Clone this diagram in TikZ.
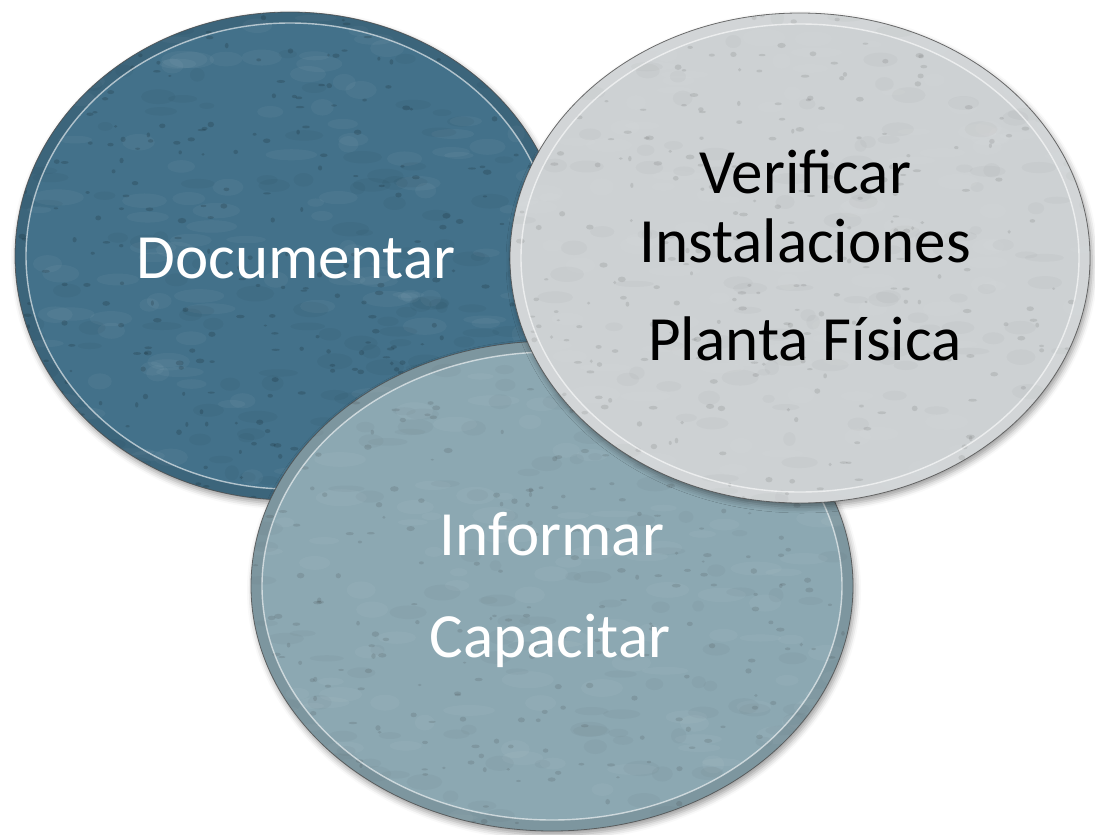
\documentclass[tikz,border=0pt]{standalone}
\usepackage{fontspec}
\setmainfont{Carlito}
\usetikzlibrary{shapes.geometric,shadows.blur}
\definecolor{docblue}{HTML}{43718A}
\definecolor{infblue}{HTML}{8CA8B2}
\definecolor{vergray}{HTML}{CDD1D3}
\newcommand\myGrain[5]{%
  \begin{scope}
    \clip (#1,#2) ellipse [x radius=#3pt, y radius=#4pt];
    \foreach \i in {1,...,140}{%
      \fill[white, opacity=0.04] ({#1+#3*rand},{#2+#4*rand}) ellipse [x radius={(8+18*rnd)*1pt}, y radius={(3+6*rnd)*1pt}];
      \fill[#5, opacity=0.035] ({#1+#3*rand},{#2+#4*rand}) ellipse [x radius={(6+14*rnd)*1pt}, y radius={(3+5*rnd)*1pt}];
    }
    \foreach \i in {1,...,300}{%
      \fill[#5, opacity=0.14] ({#1+#3*rand},{#2+#4*rand}) ellipse [x radius={(1.5+3*rnd)*1pt}, y radius={(1+1.8*rnd)*1pt}];
    }
  \end{scope}}
\newcommand\myRim[5]{%
  \fill[#5, opacity=0.10, even odd rule] (#1,#2) ellipse [x radius=#3pt, y radius=#4pt]
     (#1,#2) ellipse [x radius={(#3-11)*1pt}, y radius={(#4-11)*1pt}];
  \draw[white, opacity=0.6, line width=1.4pt] (#1,#2) ellipse [x radius={(#3-11)*1pt}, y radius={(#4-11)*1pt}];
  \draw[black!70, opacity=0.8, line width=0.8pt] (#1,#2) ellipse [x radius=#3pt, y radius=#4pt];}
\begin{document}
\begin{tikzpicture}[x=1pt,y=-1pt,
  oval/.style={ellipse, inner sep=0pt, fill=#1,
    blur shadow={shadow xshift=2pt, shadow yshift=-4pt, shadow blur radius=6pt, shadow opacity=40}},
  lbl/.style={font=\fontsize{63}{70}\selectfont, anchor=base, inner sep=0pt}]
\useasboundingbox (0,0) rectangle (1095,835);
\pgfmathsetseed{7}
% left ellipse
\node[oval=docblue, minimum width=550pt, minimum height=488pt] (doc) at (290,256) {};
\myGrain{290}{256}{275}{244}{black}
\myRim{290}{256}{275}{244}{black}
% bottom ellipse
\node[oval=infblue, minimum width=602pt, minimum height=490pt] (inf) at (552,586) {};
\myGrain{552}{586}{301}{245}{black!80}
\myRim{552}{586}{301}{245}{black}
% right ellipse
\node[oval=vergray, minimum width=580pt, minimum height=490pt] (ver) at (800,258) {};
\myGrain{800}{258}{290}{245}{black!70}
\myRim{800}{258}{290}{245}{white}
% labels
\node[lbl, white] (t1) at (296,278) {Documentar};
\node[lbl, black] (t2) at (805,193) {Verificar};
\node[lbl, black] (t3) at (805,262) {Instalaciones};
\node[lbl, black] (t4) at (805,360) {Planta Física};
\node[lbl, white] (t5) at (552,555) {Informar};
\node[lbl, white] (t6) at (550,657) {Capacitar};
\end{tikzpicture}
\end{document}
